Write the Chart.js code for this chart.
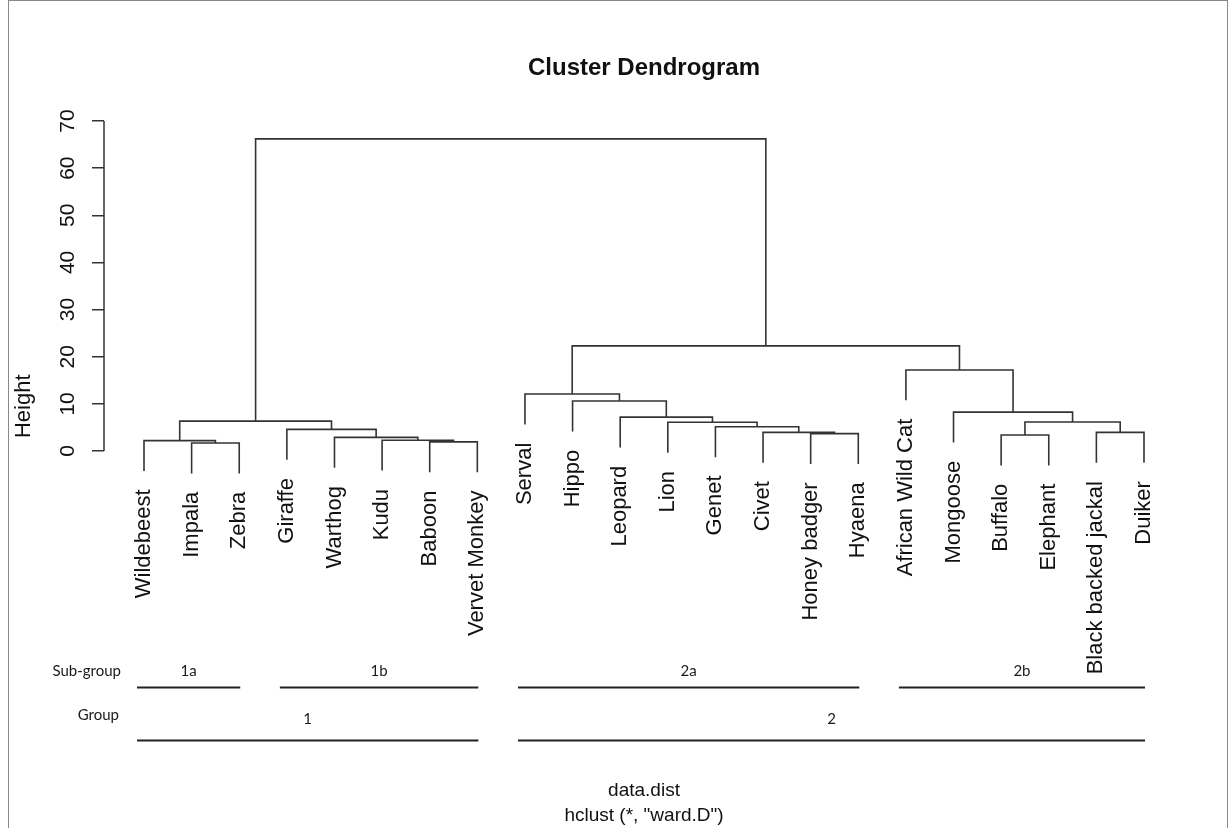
<!DOCTYPE html>
<html>
<head>
<meta charset="utf-8">
<title>Cluster Dendrogram</title>
<script src="https://cdn.jsdelivr.net/npm/chart.js@4.4.1/dist/chart.umd.min.js"></script>
<style>
  html, body { margin: 0; padding: 0; background: #fff; }
  #wrap { width: 1229px; height: 828px; }
</style>
</head>
<body>
<div id="wrap"><canvas id="dendro" width="1229" height="828"></canvas></div>
<script>
// ============================================
// DATA
// ============================================

// leaves in plotting order, left to right
const leafNames = [
  'Wildebeest', 'Impala', 'Zebra', 'Giraffe', 'Warthog', 'Kudu', 'Baboon', 'Vervet Monkey',
  'Serval', 'Hippo', 'Leopard', 'Lion', 'Genet', 'Civet', 'Honey badger', 'Hyaena',
  'African Wild Cat', 'Mongoose', 'Buffalo', 'Elephant', 'Black backed jackal', 'Duiker'
];

// hclust style merge table: negative = leaf number, positive = earlier merge row
const mergeLeft   = [-2, -7, -1, -6, -5, -19, -15, -14, -21, -4, -13, -12, 6, 3, -11, -18, -10, -9, -17, 18, 14];
const mergeRight  = [-3, -8, 1, 2, 4, -20, -16, 7, -22, 5, 8, 11, 9, 10, 12, 13, 15, 17, 16, 19, 20];
const mergeHeight = [1.7, 1.95, 2.2, 2.3, 2.9, 3.4, 3.7, 3.95, 3.95, 4.6, 5.15, 6.1, 6.15, 6.35, 7.2, 8.25, 10.6, 12.1, 17.2, 22.3, 66.2];

const heightTicks = [0, 10, 20, 30, 40, 50, 60, 70];

// hand drawn grouping underneath the tree
const subGroupNames = ['1a', '1b', '2a', '2b'];
const subGroupFirst = [1, 4, 9, 17];
const subGroupLast  = [3, 8, 16, 22];
const groupNames = ['1', '2'];
const groupFirst = [1, 9];
const groupLast  = [8, 22];

(function() {
  'use strict';

  const FONT = '"Liberation Sans", Arial, sans-serif';
  const INK = '#111';
  const LINE = '#333';

  // ============================================
  // TREE LAYOUT (x = leaf slot, y = merge height)
  // ============================================

  // R hangs leaves 10% of the height range below their merge
  const hang = 0.1 * (Math.max(...mergeHeight) - Math.min(...mergeHeight));
  const nodeX = [];
  const leafBottom = new Array(leafNames.length).fill(0);

  function endOf(id, h) {
    if (id < 0) {
      leafBottom[-id - 1] = h - hang;
      return { x: -id, y: h - hang };
    }
    return { x: nodeX[id - 1], y: mergeHeight[id - 1] };
  }

  const segments = mergeHeight.map((h, i) => {
    const a = endOf(mergeLeft[i], h);
    const b = endOf(mergeRight[i], h);
    nodeX[i] = (a.x + b.x) / 2;
    return [a, { x: a.x, y: h }, { x: b.x, y: h }, b];
  });

  const datasets = segments.map(pts => ({
    data: pts,
    borderColor: LINE,
    borderWidth: 1.6,
    pointRadius: 0,
    tension: 0,
    fill: false
  }));

  // ============================================
  // EXTRA DRAWING (axis line, labels, groups)
  // ============================================

  const decorPlugin = {
    id: 'dendroDecor',
    afterDraw(chart) {
      const ctx = chart.ctx;
      const xs = chart.scales.x;
      const ys = chart.scales.y;
      const area = chart.chartArea;

      ctx.save();

      // y axis line only spans the tick range, like base R
      ctx.strokeStyle = '#333';
      ctx.lineWidth = 1.5;
      ctx.beginPath();
      ctx.moveTo(area.left, ys.getPixelForValue(heightTicks[0]));
      ctx.lineTo(area.left, ys.getPixelForValue(heightTicks[heightTicks.length - 1]));
      ctx.stroke();

      // leaf labels hanging under each leaf
      ctx.font = '22px ' + FONT;
      ctx.fillStyle = INK;
      const gap = ctx.measureText('m').width;
      leafNames.forEach((name, i) => {
        ctx.save();
        ctx.translate(xs.getPixelForValue(i + 1), ys.getPixelForValue(leafBottom[i]) + gap);
        ctx.rotate(-Math.PI / 2);
        ctx.textAlign = 'right';
        ctx.textBaseline = 'middle';
        ctx.fillText(name, 0, 0);
        ctx.restore();
      });

      // sub-group / group bars
      const slot = v => xs.getPixelForValue(v);
      function drawBars(names, first, last, labelY, lineY) {
        ctx.font = '15px Lato, "Open Sans", sans-serif';
        ctx.textAlign = 'center';
        ctx.textBaseline = 'alphabetic';
        ctx.fillStyle = '#1a1a1a';
        ctx.strokeStyle = '#222';
        ctx.lineWidth = 1.8;
        names.forEach((name, i) => {
          const x0 = slot(first[i]) - 7;
          const x1 = slot(last[i]) + 1;
          ctx.beginPath();
          ctx.moveTo(x0, lineY);
          ctx.lineTo(x1, lineY);
          ctx.stroke();
          ctx.fillText(name, (x0 + x1) / 2, labelY);
        });
      }
      drawBars(subGroupNames, subGroupFirst, subGroupLast, 676, 687.5);
      drawBars(groupNames, groupFirst, groupLast, 724, 740.5);

      ctx.font = '15px Lato, "Open Sans", sans-serif';
      ctx.textAlign = 'right';
      ctx.fillStyle = '#1a1a1a';
      ctx.fillText('Sub-group', 121, 676);
      ctx.fillText('Group', 119, 720);

      // picture frame
      ctx.strokeStyle = '#888';
      ctx.lineWidth = 1;
      ctx.strokeRect(8.5, 0.5, 1219, 840);

      ctx.restore();
    }
  };

  // ============================================
  // CHART
  // ============================================

  new Chart(document.getElementById('dendro'), {
    type: 'line',
    data: { datasets: datasets },
    plugins: [decorPlugin],
    options: {
      responsive: false,
      animation: false,
      layout: { padding: { left: 8, right: 45, top: 40, bottom: 0 } },
      plugins: {
        legend: { display: false },
        tooltip: { enabled: false },
        title: {
          display: true,
          fullSize: false,
          text: 'Cluster Dendrogram',
          color: INK,
          font: { family: FONT, size: 24, weight: 'bold', lineHeight: 1.2 },
          padding: { top: 14, bottom: 28.77 }
        },
        subtitle: {
          display: true,
          fullSize: false,
          position: 'bottom',
          text: ['data.dist', 'hclust (*, "ward.D")'],
          color: INK,
          font: { family: FONT, size: 19, lineHeight: 25 / 19 },
          padding: { top: 77.1, bottom: 0 }
        }
      },
      scales: {
        x: {
          type: 'linear',
          display: false,
          min: 0.16,
          max: leafNames.length + 0.84
        },
        y: {
          type: 'linear',
          min: -53,
          max: 72,
          afterBuildTicks: scale => {
            scale.ticks = heightTicks.map(v => ({ value: v }));
          },
          afterFit: scale => {
            scale.width = 96;
          },
          border: { display: false },
          grid: {
            drawOnChartArea: false,
            drawTicks: true,
            tickLength: 12,
            color: '#333',
            lineWidth: 1.5
          },
          ticks: {
            minRotation: 90,
            maxRotation: 90,
            crossAlign: 'center',
            padding: 12,
            color: INK,
            font: { family: FONT, size: 21 }
          },
          title: {
            display: true,
            text: 'Height',
            color: INK,
            font: { family: FONT, size: 22, lineHeight: 1.2 },
            padding: { top: 3, bottom: 0 }
          }
        }
      }
    }
  });
})();
</script>
</body>
</html>
